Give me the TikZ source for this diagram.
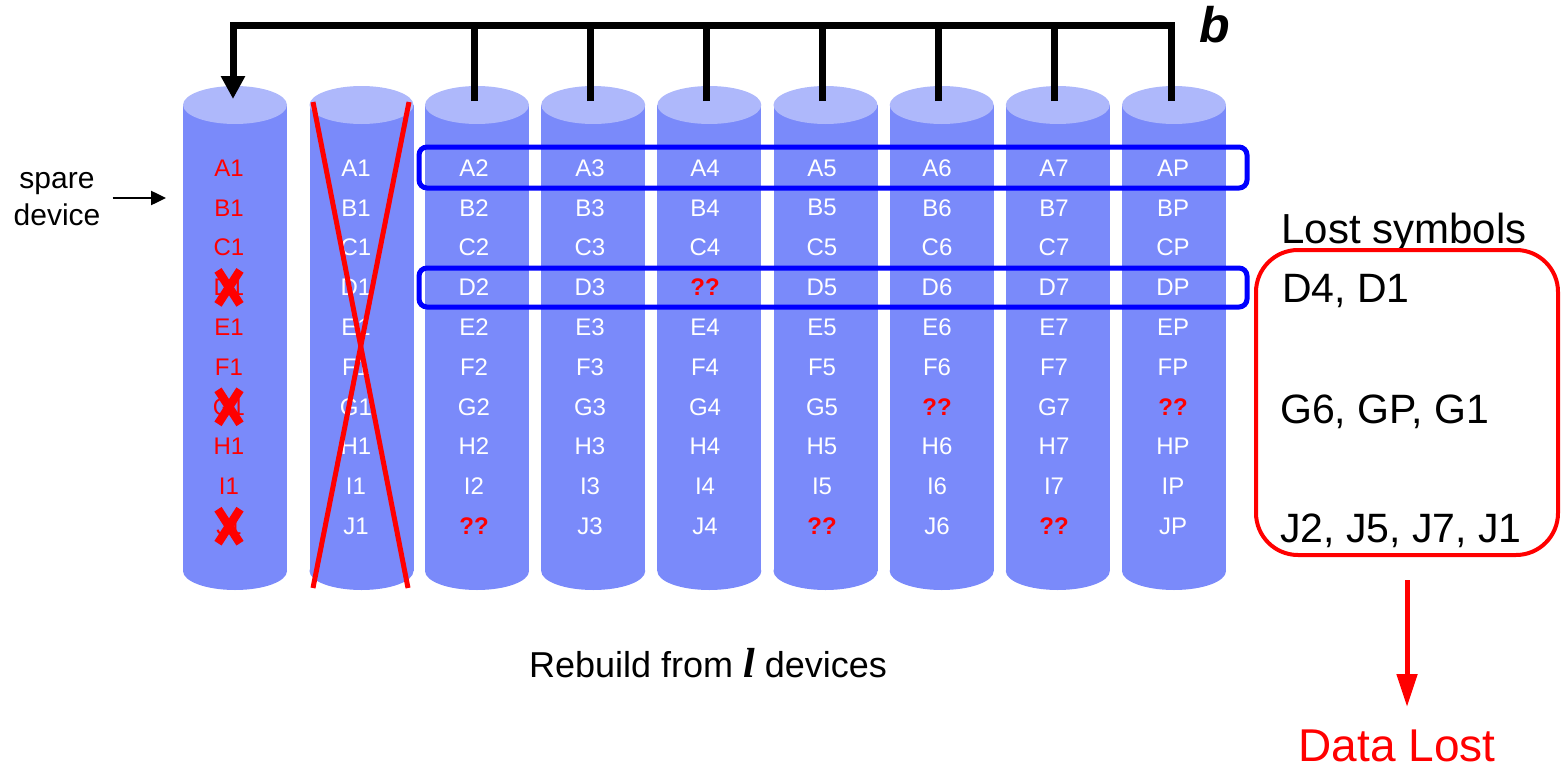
\documentclass[tikz,border=0pt]{standalone}
\usepackage{fontspec}
\setmainfont{Liberation Sans}
\newfontfamily\seriffam{Liberation Serif}
\usetikzlibrary{arrows.meta}
\definecolor{cylbody}{RGB}{122,138,250}
\definecolor{cyltop}{RGB}{174,184,251}
\definecolor{pureblue}{RGB}{0,0,255}
\definecolor{purered}{RGB}{255,0,0}

% symbols that cannot be recovered
\expandafter\def\csname lost-D4\endcsname{}
\expandafter\def\csname lost-G6\endcsname{}
\expandafter\def\csname lost-GP\endcsname{}
\expandafter\def\csname lost-J2\endcsname{}
\expandafter\def\csname lost-J5\endcsname{}
\expandafter\def\csname lost-J7\endcsname{}

\begin{document}
\begin{tikzpicture}[x=1pt,y=-1pt,
  cell/.style={text=white, font=\fontsize{24}{24}\selectfont, inner sep=0pt},
  sparecell/.style={cell, text=purered},
  lostcell/.style={cell, text=purered, font=\fontsize{24}{24}\selectfont\bfseries},
  bus/.style={line width=7pt, black},
  xline/.style={line width=5pt, purered},
  xmark/.style={line width=8.5pt, purered},
  rowbox/.style={draw=pureblue, line width=5pt, rounded corners=8pt},
  lostbox/.style={draw=purered, line width=4pt, rounded corners=42pt,
    minimum width=302pt, minimum height=305pt, inner sep=0pt},
  bigtext/.style={font=\fontsize{41}{41}\selectfont, inner sep=0pt, anchor=base west},
  redarrow/.style={draw=purered, line width=5pt, -{Triangle[length=33pt,width=20pt]}}
]
\useasboundingbox (0,0) rectangle (1568,768);

% the storage devices
\foreach \i/\c in {1/235,2/361.5,3/477,4/593.2,5/709.3,6/825.5,7/941.7,8/1057.8,9/1174} {
  \fill[cylbody] (\c-52,105) rectangle (\c+52,571);
  \fill[cylbody] (\c,571) ellipse[x radius=52pt, y radius=19pt];
  \fill[cyltop] (\c,105) ellipse[x radius=52pt, y radius=19pt];
  \coordinate (top\i) at (\c-3,101);
}
\coordinate (top1) at (233,99);

% symbol labels
\foreach \r [count=\k from 0] in {A,B,C,D,E,F,G,H,I,J} {
  \node[sparecell] (c1-\r) at (229,168+39.8*\k) {\r1};
  \node[cell] (c2-\r) at (356,168+39.8*\k) {\r1};
}
\foreach \col/\x/\s in {3/474/2,4/590/3,5/705/4,6/822/5,7/937/6,8/1054/7,9/1173/P} {
  \foreach \r [count=\k from 0] in {A,B,C,D,E,F,G,H,I,J} {
    \ifcsname lost-\r\s\endcsname
      \node[lostcell] (c\col-\r) at (\x,168+39.8*\k) {??};
    \else
      \node[cell] (c\col-\r) at (\x,168+39.8*\k) {\r\s};
    \fi
  }
}

% failed device crossed out
\draw[xline] (313,102) -- (408,588);
\draw[xline] (409,102) -- (313,588);

% symbols lost on the spare device
\foreach \r in {D,G,J} {
  \draw[xmark] ([shift={(-11pt,-17pt)}]c1-\r.center) -- ([shift={(11pt,17pt)}]c1-\r.center);
  \draw[xmark] ([shift={(11pt,-17pt)}]c1-\r.center) -- ([shift={(-11pt,17pt)}]c1-\r.center);
}

% rebuild bus
\coordinate (busL) at (233,25.5);
\draw[bus, -{Triangle[length=23pt,width=23pt]}] (top9) -- (top9 |- busL) -- (busL) -- (top1);
\foreach \i in {3,...,8} \draw[bus] (top\i) -- (top\i |- busL);
\node[font=\fontsize{50}{50}\selectfont\bfseries\itshape, anchor=base, inner sep=0pt] (bw) at (1215,43) {b};

% stripes
\draw[rowbox] (419,147) rectangle (1247,188);
\draw[rowbox] (419,268) rectangle (1247,307);

% spare device label
\node[font=\fontsize{30}{37}\selectfont, align=center, inner xsep=12pt, inner ysep=0pt] (sparelbl) at (57,199) {spare\\device};
\coordinate (sparetip) at (166,198);
\draw[line width=2.5pt, -{Triangle[length=15pt,width=14pt]}] (sparelbl.east |- sparetip) -- (sparetip);

% lost symbols
\node[font=\fontsize{42}{42}\selectfont, anchor=base, inner sep=0pt] (losttitle) at (1404,243) {Lost symbols};
\node[lostbox] (lost) at (1407,402.5) {};
\node[bigtext] (lostD) at (1282,302) {D4, D1};
\node[bigtext] (lostG) at (1280,423) {G6, GP, G1};
\node[bigtext] (lostJ) at (1280,542) {J2, J5, J7, J1};

\coordinate (lostend) at (1407,707);
\draw[redarrow] ([yshift=-23pt]lost.south) -- (lostend);
\node[font=\fontsize{46}{46}\selectfont, text=purered, anchor=base, inner sep=0pt] (datalost) at (1397,761) {Data Lost};

% caption
\node[font=\fontsize{36}{36}\selectfont, anchor=base, inner sep=0pt] (rebuild) at (708,677)
  {Rebuild from {\seriffam\bfseries\itshape\fontsize{42}{42}\selectfont l} devices};
\end{tikzpicture}
\end{document}
